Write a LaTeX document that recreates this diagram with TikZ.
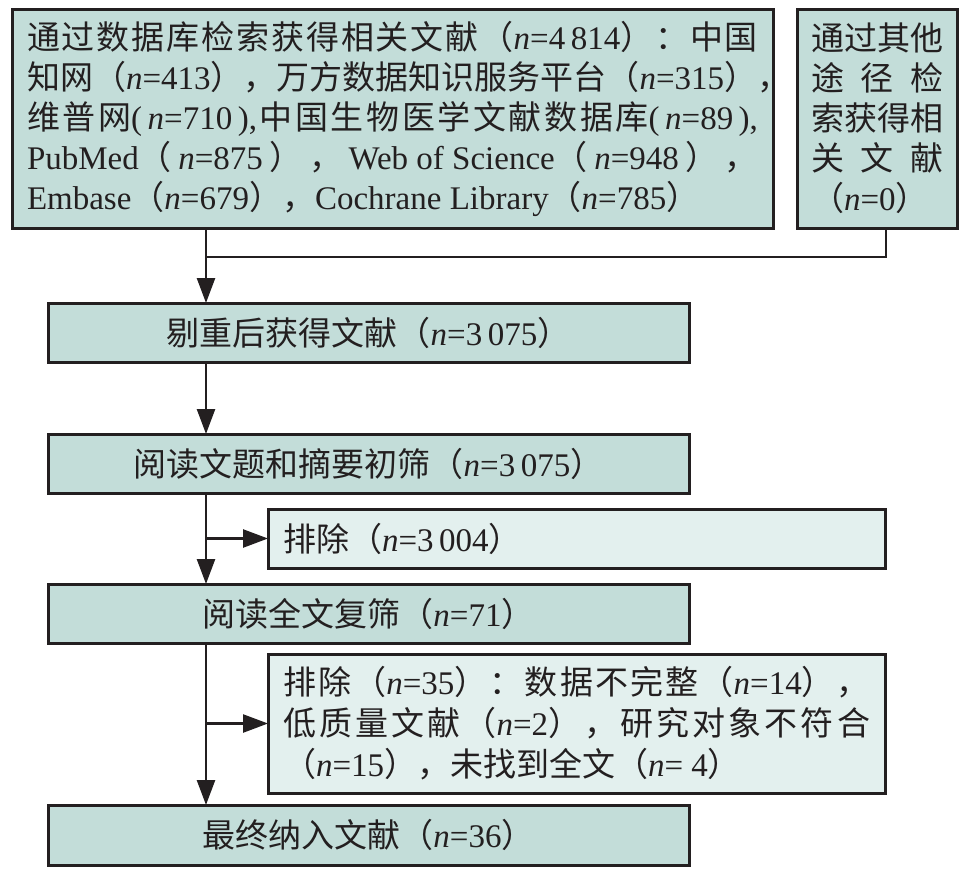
\documentclass[tikz,border=0pt]{standalone}
\usepackage{fontspec}
\setmainfont{Noto Sans CJK SC}
\newfontfamily\lat{Liberation Serif}
\usetikzlibrary{arrows.meta}
\XeTeXinterchartokenstate=1
\newXeTeXintercharclass\cjkcls
\newcount\cjkcc
\cjkcc="4E00
\loop\XeTeXcharclass\cjkcc=\cjkcls\ifnum\cjkcc<"9FFF\advance\cjkcc by 1\repeat
\cjkcc="3000
\loop\XeTeXcharclass\cjkcc=\cjkcls\ifnum\cjkcc<"303F\advance\cjkcc by 1\repeat
\cjkcc="FF00
\loop\XeTeXcharclass\cjkcc=\cjkcls\ifnum\cjkcc<"FFEF\advance\cjkcc by 1\repeat
\XeTeXinterchartoks\cjkcls\cjkcls={\hskip 0pt plus 1fil\relax}
\definecolor{mainfill}{RGB}{195,221,217}
\definecolor{exfill}{RGB}{227,240,238}
\definecolor{linec}{RGB}{35,31,32}
\newcommand\nn[1]{{\lat\textit{n}=#1}}
\newcommand\fs{\fontsize{33bp}{40bp}\selectfont}
\tikzset{
  mainbox/.style={draw=linec, line width=3bp, fill=mainfill, inner sep=0pt, outer sep=0pt, anchor=north west, text=linec},
  exbox/.style={mainbox, fill=exfill},
  conn/.style={draw=linec, line width=2.5bp},
  arr/.style={conn, -{Triangle[length=25bp,width=18bp]}}
}
\begin{document}
\begin{tikzpicture}[x=1bp,y=-1bp]
\useasboundingbox (0,0) rectangle (971,871);
\node[mainbox, minimum width=761bp, minimum height=219bp] (A) at (12,9) {\parbox{731bp}{\fs
\hbox to 731bp{通过数据库检索获得相关文献（\nn{4\,814}）：中国}%
\hbox to 731bp{知网（\nn{413}），万方数据知识服务平台（\nn{315}），}%
\hbox to 731bp{维普网{\lat(\,}\nn{710}{\lat\,),}\hfil 中国生物医学文献数据库{\lat(\,}\nn{89}{\lat\,),}}%
\hbox to 731bp{{\lat PubMed}（\hfil\nn{875}\hfil）\hfil，\hfil{\lat Web of Science}（\hfil\nn{948}\hfil）\hfil，}%
\hbox{{\lat Embase}（\nn{679}），{\lat Cochrane Library}（\nn{785}）}}};
\node[mainbox, minimum width=160bp, minimum height=219bp] (B) at (797,9) {\parbox{132bp}{\fs
\hbox to 132bp{通过其他}%
\hbox to 132bp{途\hfil 径\hfil 检}%
\hbox to 132bp{索获得相}%
\hbox to 132bp{关\hfil 文\hfil 献}%
\hbox{（\nn{0}）}}};
\node[mainbox, minimum width=641bp, minimum height=59bp] (C) at (48,303) {\fs 剔重后获得文献（\nn{3\,075}）};
\node[mainbox, minimum width=641bp, minimum height=59bp] (D) at (48,434) {\fs 阅读文题和摘要初筛（\nn{3\,075}）};
\node[exbox, minimum width=617bp, minimum height=59bp] (X1) at (268,509) {\fs\hbox to 587bp{排除（\nn{3\,004}）\hskip 0pt plus 1fill}};
\node[mainbox, minimum width=641bp, minimum height=59bp] (E) at (48,584) {\fs 阅读全文复筛（\nn{71}）};
\node[exbox, minimum width=617bp, minimum height=139bp] (X2) at (268,654) {\parbox{587bp}{\fontsize{33bp}{41bp}\selectfont
\hbox to 587bp{排除（\nn{35}）：数据不完整（\nn{14}），}%
\hbox to 587bp{低质量文献（\nn{2}），研究对象不符合}%
\hbox{（\nn{15}），未找到全文（\nn{\ 4}）}}};
\node[mainbox, minimum width=641bp, minimum height=60bp] (F) at (48,805) {\fs 最终纳入文献（\nn{36}）};
\coordinate (j) at (206,257);
\draw[arr] (A.south -| j) -- (C.north -| j);
\draw[conn] ([xshift=9bp]B.south) |- (j);
\draw[arr] (C.south -| j) -- (D.north -| j);
\draw[arr] (D.south -| j) -- (E.north -| j);
\draw[arr] (X1.west -| j) -- (X1.west);
\draw[arr] (E.south -| j) -- (F.north -| j);
\draw[arr] (X2.west -| j) -- (X2.west);
\end{tikzpicture}
\end{document}
